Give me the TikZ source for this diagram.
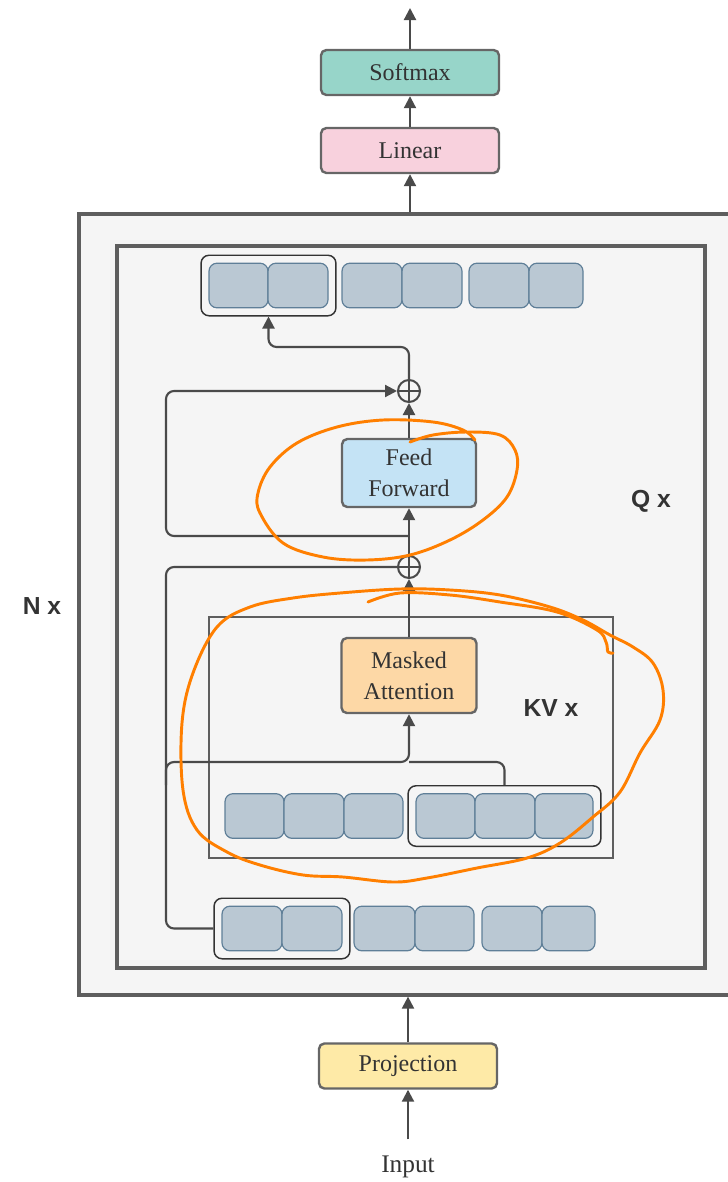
\documentclass[tikz,border=0pt]{standalone}
\usepackage{fontspec}
\setmainfont{Liberation Serif}
\setsansfont{Liberation Sans}
\usepackage{xcolor}
\usepackage{tikz}
\usetikzlibrary{
	arrows.meta,fit,positioning
}
\definecolor{linegray}{HTML}{4A4A4A}
\definecolor{boxgray}{HTML}{666666}
\definecolor{framegray}{HTML}{5E5E5E}
\definecolor{panel}{HTML}{F5F5F5}
\definecolor{tokfill}{HTML}{BAC8D3}
\definecolor{tokline}{HTML}{5F7F98}
\definecolor{softfill}{HTML}{97D5C9}
\definecolor{linfill}{HTML}{F8D1DD}
\definecolor{projfill}{HTML}{FEEAA7}
\definecolor{fffill}{HTML}{C4E3F5}
\definecolor{attnfill}{HTML}{FDD8A6}
\definecolor{scribble}{HTML}{FF7F00}

\begin{document}
\begin{tikzpicture}[x=0.75pt,y=-0.75pt,
	box/.style={draw=boxgray,line width=1.8pt,rounded corners=4pt,minimum width=133.5pt,minimum height=33.75pt,
		font=\fontsize{18}{23}\selectfont,align=center,text=black!80},
	tok/.style={draw=tokline,fill=tokfill,line width=0.9pt,rounded corners=6pt,minimum height=33.5pt},
	grp/.style={draw=black!80,line width=1.1pt,rounded corners=6pt,inner sep=5.5pt},
	frame/.style={draw=framegray,fill=panel,line width=2.4pt},
	arr/.style={draw=linegray,line width=1.6pt,-{Triangle[length=9pt,width=9pt]}},
	wire/.style={draw=linegray,line width=1.6pt},
	add/.style={circle,draw=linegray,line width=1.5pt,minimum size=16.5pt,inner sep=0pt,
		path picture={\draw[linegray,line width=1.5pt] (path picture bounding box.north) -- (path picture bounding box.south)
			(path picture bounding box.west) -- (path picture bounding box.east);}},
	rep/.style={font=\sffamily\bfseries\fontsize{18.5}{22}\selectfont,text=black!80},
	freehand/.style={draw=scribble,line width=2.2pt,line cap=round,line join=round}]
	\useasboundingbox (0,0) rectangle (728,1182);
	\clip (0,0) rectangle (728,1182);
	%
	\node[frame,minimum width=496.5pt,minimum height=585.75pt] (outer) at (410,604.5) {};
	\node[frame,minimum width=441pt,minimum height=541.5pt] (inner) at (411,607) {};
	\node[frame,line width=1.6pt,minimum width=303pt,minimum height=180.75pt] (kv) at (411,737.5) {};
	%
	\node[box,fill=softfill] (softmax) at (410,72.5) {Softmax};
	\node[box,fill=linfill] (linear) at (410,150.5) {Linear};
	\node[box,fill=projfill] (proj) at (408,1066) {Projection};
	\node[font=\fontsize{19}{23}\selectfont,text=black!80] (input) at (408,1167) {Input};
	\node[box,fill=fffill,minimum width=100.5pt,minimum height=51pt] (ff) at (409,473) {Feed\\Forward};
	\node[box,fill=attnfill,minimum width=101.25pt,minimum height=56.25pt] (attn) at (409,675.5) {Masked\\Attention};
	\node[add] (addtop) at (409,391) {};
	\node[add] (addbot) at (409,567) {};
	%
	\node[rep] (nrep) at (42,606) {N x};
	\node[rep] (qrep) at (651,501) {Q x};
	\node[rep] (kvrep) at (551,708) {KV x};
	%
	% token rows
	\foreach \n/\x/\w in {t1/238.5/44.25,t2/298/45,t3/372/45,t4/432/45,t5/499/45,t6/556/40.5}
		\node[tok,minimum width=\w pt] (\n) at (\x,285.5) {};
	\foreach \n/\x/\w in {k1/254.5/44.25,k2/314/45,k3/373.5/44.25,k4/445.5/44.25,k5/505/45,k6/564/43.5}
		\node[tok,minimum width=\w pt] (\n) at (\x,816) {};
	\foreach \n/\x/\w in {b1/252/45,b2/312/45,b3/384.5/45.75,b4/444.5/44.25,b5/512/45,b6/568.5/39.75}
		\node[tok,minimum width=\w pt] (\n) at (\x,928.5) {};
	\node[grp,fit=(t1)(t2)] (g1) {};
	\node[grp,fit=(k4)(k6)] (g2) {};
	\node[grp,fit=(b1)(b2)] (g3) {};
	%
	\coordinate (out) at (410,8);
	\coordinate (topbend) at (409,347);
	\coordinate (tapA) at (409,536);
	\coordinate (railA) at (166,391);
	\coordinate (railB) at (166,567);
	\coordinate (railC) at (166,785);
	\coordinate (kvjoin) at (409,762);
	%
	\draw[arr] ([yshift=9pt]input.north) -- (proj);
	\draw[arr] (proj) -- (proj |- outer.south);
	\draw[arr] (linear |- outer.north) -- (linear);
	\draw[arr] (linear) -- (softmax);
	\draw[arr] (softmax) -- (out);
	%
	\draw[arr] (attn) -- (addbot);
	\draw[arr] (addbot) -- (ff);
	\draw[arr] (ff) -- (addtop);
	\draw[arr,rounded corners=6pt] (addtop) -- (topbend) -| (g1);
	\draw[arr,rounded corners=6pt] (tapA) -| (railA) -- (addtop);
	\draw[wire,rounded corners=6pt] (g3.west) -| (railB) -- (addbot);
	\draw[arr,rounded corners=6pt] (railC) |- (kvjoin) -- (attn);
	\draw[wire,rounded corners=6pt] (g2.north) |- (kvjoin);
	%
	% orange marks
	\draw[freehand] plot[smooth,tension=0.6] coordinates {(410,442) (433,435) (467,432) (500,435) (515,450) (517,470)
		(507,497) (483,520) (450,540) (410,555) (367,560) (323,557) (283,543) (260,513) (258,493) (270,467)
		(297,443) (337,427) (383,420) (433,422) (463,430) (475,440)};
	\draw[freehand] plot[smooth cycle,tension=0.6] coordinates {(450,590) (400,589) (340,593) (293,598) (250,607)
		(217,627) (193,673) (182,723) (183,790) (197,830) (227,852) (260,865) (303,875) (343,877) (393,882)
		(427,878) (477,868) (527,858) (560,843) (593,817) (620,792) (640,753) (660,720) (663,690) (653,663)
		(633,647) (610,635) (583,620) (550,607) (500,595)};
	\draw[freehand] plot[smooth,tension=0.6] coordinates {(368,602) (400,593) (450,595) (500,602) (557,612)
		(597,630) (606,642) (608,652) (613,653)};
\end{tikzpicture}
\end{document}
